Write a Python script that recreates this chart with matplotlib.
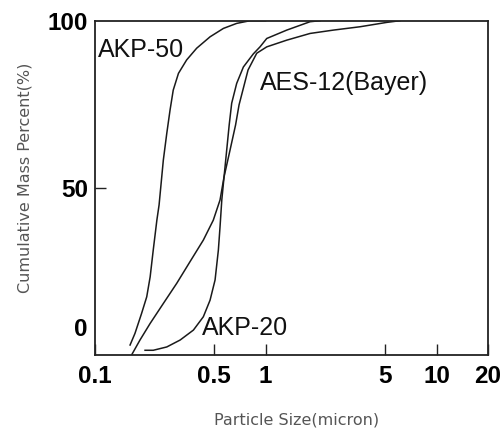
import numpy as np
import matplotlib
matplotlib.use("Agg")
import matplotlib.pyplot as plt
from matplotlib.ticker import FixedLocator, FixedFormatter, NullLocator

# values (particle size in micron, cumulative %)
akp50_size = [0.161, 0.172, 0.188, 0.2015, 0.211, 0.220, 0.231, 0.238, 0.252, 0.264,
              0.276, 0.288, 0.309, 0.345, 0.395, 0.473, 0.566, 0.677, 0.810, 1.0]
akp50_pct = [-6.6, -2.4, 4.8, 10.8, 18.0, 27.7, 38.5, 44.0, 58.4, 66.4,
             73.4, 79.3, 84.3, 88.3, 91.8, 95.2, 97.7, 99.2, 100.0, 100.0]

aes12_size = [0.165, 0.184, 0.211, 0.252, 0.302, 0.361, 0.432, 0.494, 0.541, 0.571,
              0.619, 0.667, 0.699, 0.741, 0.789, 0.887, 1.015, 1.329, 1.819, 2.49,
              3.57, 5.11, 6.1]
aes12_pct = [-10.0, -4.8, 1.2, 8.4, 15.7, 23.5, 31.3, 38.5, 45.8, 53.4,
             61.4, 68.9, 74.9, 79.9, 85.3, 90.3, 92.2, 94.2, 96.2, 97.2,
             98.2, 99.5, 100.0]

akp20_size = [0.197, 0.220, 0.264, 0.316, 0.378, 0.432, 0.473, 0.506, 0.529, 0.541,
              0.554, 0.571, 0.612, 0.633, 0.677, 0.741, 0.847, 0.927, 1.015, 1.329,
              1.819, 2.08]
akp20_pct = [-8.5, -8.5, -7.3, -4.8, -1.2, 3.6, 9.6, 16.9, 27.7, 36.1,
             45.8, 53.4, 68.9, 75.4, 81.3, 86.2, 90.1, 92.2, 94.7, 97.2,
             99.7, 100.0]

x_ticks = [0.1, 0.5, 1, 5, 10, 20]
x_labels = ["0.1", "0.5", "1", "5", "10", "20"]
y_ticks = [0, 50, 100]
y_labels = ["0", "50", "100"]


# the original y axis is not evenly spaced: 0-50 is shorter than 50-100
def y_fwd(v):
    v = np.asarray(v, dtype=float)
    return np.where(v < 50, v * 2.768, 138.4 + (v - 50) * 3.352)


def y_inv(u):
    u = np.asarray(u, dtype=float)
    return np.where(u < 138.4, u / 2.768, 50 + (u - 138.4) / 3.352)


fig = plt.figure(figsize=(5.03, 4.28), dpi=100)
ax = fig.add_axes([0.1883, 0.1706, 0.7819, 0.7810])

line_kw = dict(color="#1a1a1a", linewidth=1.1)
ax.plot(akp50_size, akp50_pct, **line_kw)
ax.plot(aes12_size, aes12_pct, **line_kw)
ax.plot(akp20_size, akp20_pct, **line_kw)

ax.set_xscale("log")
ax.set_yscale("function", functions=(y_fwd, y_inv))
ax.set_xlim(0.1, 20)
ax.set_ylim(-10.2, 100)

ax.xaxis.set_major_locator(FixedLocator(x_ticks))
ax.xaxis.set_major_formatter(FixedFormatter(x_labels))
ax.xaxis.set_minor_locator(NullLocator())
ax.yaxis.set_major_locator(FixedLocator(y_ticks))
ax.yaxis.set_major_formatter(FixedFormatter(y_labels))
ax.yaxis.set_minor_locator(NullLocator())

ax.tick_params(axis="both", direction="in", length=8, width=1.0, color="#222222")
ax.tick_params(axis="x", pad=7)
ax.tick_params(axis="y", pad=5)
for lab in ax.get_xticklabels() + ax.get_yticklabels():
    lab.set_fontfamily("Liberation Sans")
    lab.set_fontweight("bold")
    lab.set_fontsize(17.5)

# only the 50 tick has a visible mark in the original
for val, t in zip(y_ticks, ax.yaxis.get_major_ticks()):
    if val != 50:
        t.tick1line.set_visible(False)
ax.tick_params(axis="y", right=False)
ax.tick_params(axis="x", top=False)

for s in ax.spines.values():
    s.set_linewidth(1.3)
    s.set_color("#222222")

lbl_kw = dict(fontfamily="Liberation Sans", fontsize=18, color="#111111", va="center")
ax.text(0.1045, 91.3, "AKP-50", **lbl_kw)
ax.text(0.927, 81.4, "AES-12(Bayer)", **lbl_kw)
ax.text(0.425, -0.5, "AKP-20", **lbl_kw)

fig.text(0.05, 0.584, "Cumulative Mass Percent(%)", rotation=90, ha="center", va="center",
         fontsize=11.5, color="#555555", fontfamily="DejaVu Sans")
fig.text(0.59, 0.019, "Particle Size(micron)", ha="center", va="center",
         fontsize=11.5, color="#555555", fontfamily="DejaVu Sans")

fig.savefig("out.png", dpi=100)
